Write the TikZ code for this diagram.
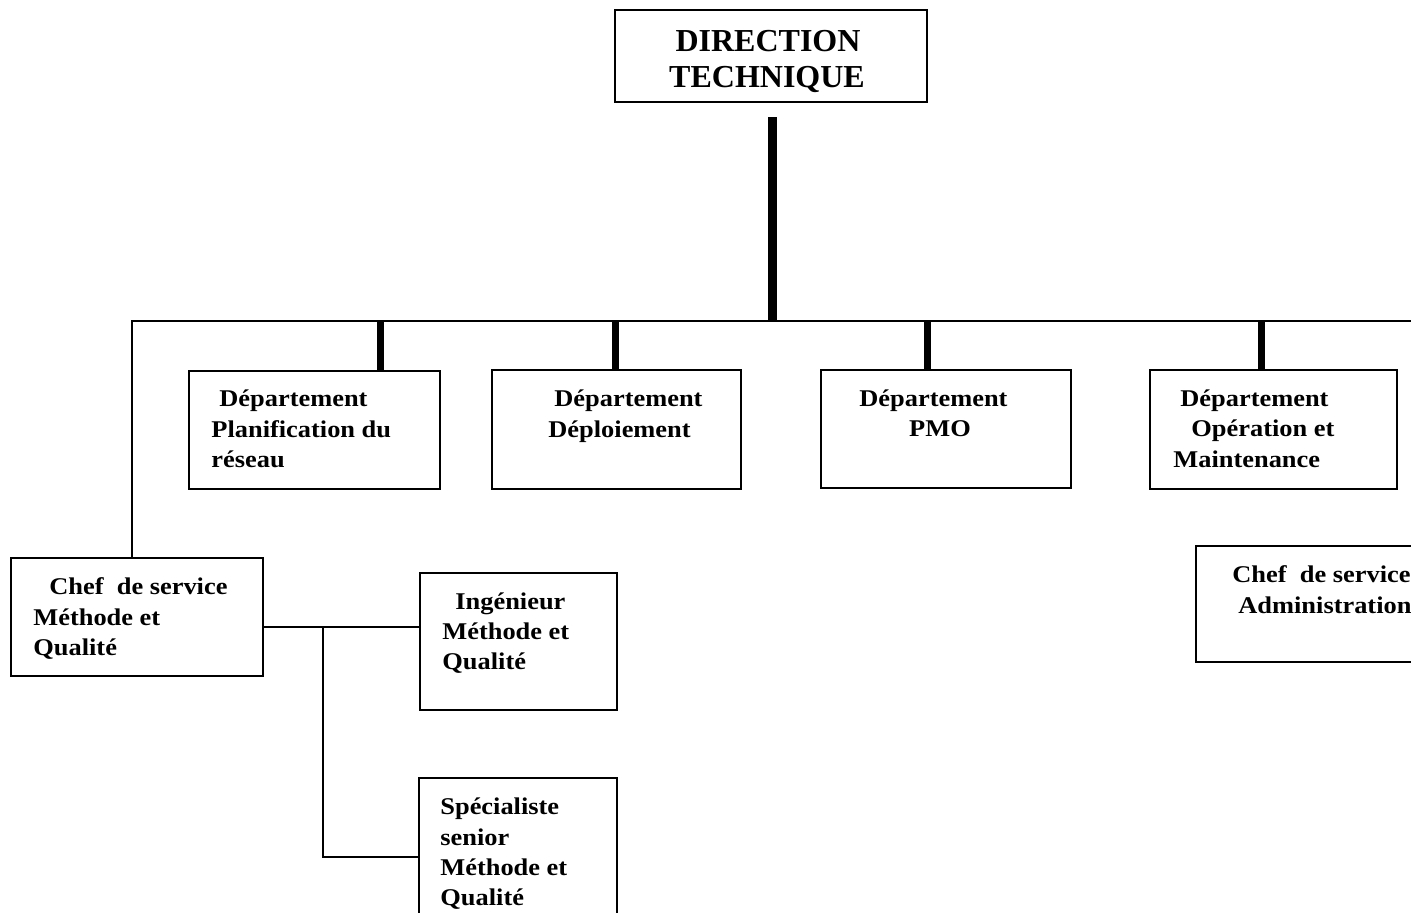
\documentclass[tikz,border=0pt]{standalone}
\usepackage{fontspec}
\setmainfont{Liberation Serif}[FakeStretch=1.1]
\newfontfamily\headfont{Liberation Serif}
\begin{document}
\begin{tikzpicture}[x=0.5pt,y=-0.5pt,
  box/.style={draw, line width=0.9pt, inner sep=0pt},
  wire/.style={line width=1pt},
  trunk/.style={line width=4.5pt},
  stem/.style={line width=3.5pt},
  txt/.style={anchor=base west, inner sep=0pt, font=\fontsize{12}{14}\selectfont\bfseries},
  title/.style={anchor=base, inner sep=0pt, font=\headfont\fontsize{16}{18}\selectfont\bfseries}]
\useasboundingbox (0,0) rectangle (1411,912);
\clip (0,0) rectangle (1411,912);

% boxes
\node[box, minimum width=156pt, minimum height=46pt] (dir) at (771,56) {};
\node[box, minimum width=125.5pt, minimum height=59pt] (d1) at (314.5,430) {};
\node[box, minimum width=124.5pt, minimum height=59.5pt] (d2) at (616.5,429.5) {};
\node[box, minimum width=125pt, minimum height=59pt] (d3) at (946,429) {};
\node[box, minimum width=123.5pt, minimum height=59.5pt] (d4) at (1273.5,429.5) {};
\node[box, minimum width=126pt, minimum height=59pt] (chef) at (137,617) {};
\node[box, minimum width=98.5pt, minimum height=68.5pt] (ing) at (518.5,641.5) {};
\node[box, minimum width=99pt, minimum height=91pt] (spec) at (518,869) {};
\node[box, minimum width=132pt, minimum height=58pt] (adm) at (1328,604) {};

% box texts
\node[title] (t1) at (768,51) {DIRECTION};
\node[title] (t2) at (767,87) {TECHNIQUE};

\node[txt] (d1a) at (219,406) {Département};
\node[txt] (d1b) at (211,437) {Planification du};
\node[txt] (d1c) at (211,467) {réseau};

\node[txt] (d2a) at (554,406) {Département};
\node[txt] (d2b) at (548,437) {Déploiement};

\node[txt] (d3a) at (859,406) {Département};
\node[txt, anchor=base] (d3b) at (940,436) {PMO};

\node[txt] (d4a) at (1180,406) {Département};
\node[txt] (d4b) at (1191,436) {Opération et};
\node[txt] (d4c) at (1173,467) {Maintenance};

\node[txt] (c1) at (49,594) {Chef\ \ de service};
\node[txt] (c2) at (33,625) {Méthode et};
\node[txt] (c3) at (33,655) {Qualité};

\node[txt] (i1) at (455,609) {Ingénieur};
\node[txt] (i2) at (442,639) {Méthode et};
\node[txt] (i3) at (442,669) {Qualité};

\node[txt] (s1) at (440,814) {Spécialiste};
\node[txt] (s2) at (440,845) {senior};
\node[txt] (s3) at (440,875) {Méthode et};
\node[txt] (s4) at (440,905) {Qualité};

\node[txt] (a1) at (1232,582) {Chef\ \ de service};
\node[txt] (a2) at (1238,613) {Administration};

% connectors
\coordinate (busL) at (132,321);
\coordinate (busR) at (1420,321);
\coordinate (top) at (772,117);
\coordinate (p1) at (380,321);
\coordinate (p2) at (615,321);
\coordinate (p3) at (927,321);
\coordinate (p4) at (1261,321);
\coordinate (j) at (323,627);
\coordinate (k) at (323,857);

\draw[trunk] (top) -- (top |- busL);
\draw[wire] (busR) -- (busL) -- (busL |- chef.north);
\draw[stem] (p1) -- (p1 |- d1.north);
\draw[stem] (p2) -- (p2 |- d2.north);
\draw[stem] (p3) -- (p3 |- d3.north);
\draw[stem] (p4) -- (p4 |- d4.north);
\draw[wire] (chef.east |- j) -- (ing.west |- j);
\draw[wire] (j) -- (k) -- (spec.west |- k);
\end{tikzpicture}
\end{document}
